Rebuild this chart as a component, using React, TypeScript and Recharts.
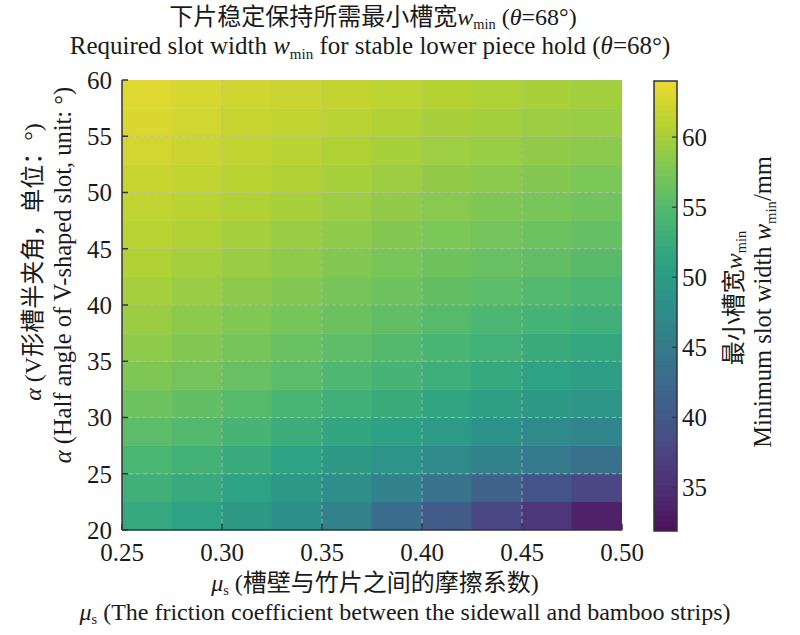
import * as React from 'react'
import {
  ComposedChart,
  XAxis,
  YAxis,
  ReferenceArea,
  ReferenceLine,
} from 'recharts'

// cell centres of the map (μs across, α up)
const MU_CENTERS = [0.2625, 0.2875, 0.3125, 0.3375, 0.3625, 0.3875, 0.4125, 0.4375, 0.4625, 0.4875]
const ALPHA_CENTERS = [21.25, 23.75, 26.25, 28.75, 31.25, 33.75, 36.25, 38.75, 41.25, 43.75, 46.25, 48.75, 51.25, 53.75, 56.25, 58.75]
const MU_STEP = 0.025
const ALPHA_STEP = 2.5

// w_min (mm), one row per α centre, bottom row first
const W_A21 = [52.0, 51.1, 49.8, 48.2, 46.1, 43.0, 40.5, 38.0, 35.8, 33.5]
const W_A24 = [53.1, 52.3, 51.1, 49.5, 47.9, 46.0, 43.8, 41.5, 39.5, 37.8]
const W_A26 = [54.2, 53.5, 52.4, 51.1, 49.8, 48.7, 47.4, 46.0, 44.7, 43.6]
const W_A29 = [55.5, 54.8, 53.8, 52.7, 51.7, 50.8, 49.7, 48.4, 47.4, 46.7]
const W_A31 = [56.7, 56.0, 55.1, 54.1, 53.2, 52.5, 51.5, 50.4, 49.5, 49.0]
const W_A34 = [57.8, 57.1, 56.3, 55.4, 54.5, 53.8, 52.9, 52.0, 51.1, 50.5]
const W_A36 = [58.7, 58.0, 57.2, 56.4, 55.6, 54.9, 54.1, 53.3, 52.5, 51.8]
const W_A39 = [59.3, 58.6, 57.9, 57.2, 56.5, 55.8, 55.1, 54.3, 53.7, 53.1]
const W_A41 = [59.9, 59.3, 58.6, 58.0, 57.3, 56.7, 56.0, 55.4, 54.8, 54.3]
const W_A44 = [60.5, 59.9, 59.3, 58.7, 58.0, 57.4, 56.8, 56.3, 55.8, 55.3]
const W_A46 = [61.0, 60.5, 59.9, 59.3, 58.7, 58.1, 57.6, 57.1, 56.6, 56.1]
const W_A49 = [61.4, 61.0, 60.5, 60.0, 59.4, 58.8, 58.3, 57.8, 57.4, 56.9]
const W_A51 = [61.9, 61.5, 61.0, 60.5, 60.0, 59.4, 58.9, 58.5, 58.1, 57.6]
const W_A54 = [62.5, 62.0, 61.5, 61.0, 60.5, 60.0, 59.5, 59.2, 58.8, 58.5]
const W_A56 = [62.9, 62.4, 61.9, 61.5, 61.0, 60.5, 60.1, 59.8, 59.4, 59.2]
const W_A59 = [63.2, 62.7, 62.3, 62.0, 61.6, 61.2, 60.8, 60.4, 60.0, 59.7]
const W_ROWS = [W_A21, W_A24, W_A26, W_A29, W_A31, W_A34, W_A36, W_A39, W_A41, W_A44, W_A46, W_A49, W_A51, W_A54, W_A56, W_A59]

const X_TICKS = [0.25, 0.3, 0.35, 0.4, 0.45, 0.5]
const Y_TICKS = [20, 25, 30, 35, 40, 45, 50, 55, 60]
const CBAR_TICKS = [35, 40, 45, 50, 55, 60]
const C_MIN = 31.9
const C_MAX = 64

const VIRIDIS = ['#440154', '#482475', '#414487', '#355f8d', '#2a788e', '#21918c', '#22a884', '#44bf70', '#7ad151', '#bddf26', '#fde725']
const WASH = 0.13 // the print is a little duller than pure viridis

const FONT = "'Liberation Serif', 'Times New Roman', 'Noto Sans CJK SC', serif"
const INK = '#1a1a1a'

function hex(c: string) {
  return [1, 3, 5].map((i) => parseInt(c.slice(i, i + 2), 16))
}

function colorFor(v: number) {
  const t = Math.max(0, Math.min(1, (v - C_MIN) / (C_MAX - C_MIN))) * (VIRIDIS.length - 1)
  const i = Math.min(VIRIDIS.length - 2, Math.floor(t))
  const f = t - i
  const a = hex(VIRIDIS[i])
  const b = hex(VIRIDIS[i + 1])
  const rgb = a.map((x, k) => Math.round((x + (b[k] - x) * f) * (1 - WASH) + 128 * WASH))
  return `rgb(${rgb.join(',')})`
}

// colour bar is drawn as thin bands, bottom to top
const CBAR_BANDS = 90
const bandH = (C_MAX - C_MIN) / CBAR_BANDS
const bands = Array.from({ length: CBAR_BANDS }, (_, i) => C_MIN + i * bandH)

const Wmin = () => (
  <>
    <span style={{ fontStyle: 'italic' }}>w</span>
    <span style={{ fontSize: '0.6em', verticalAlign: '-0.3em' }}>min</span>
  </>
)

const Mus = () => (
  <>
    <span style={{ fontStyle: 'italic' }}>μ</span>
    <span style={{ fontSize: '0.6em', verticalAlign: '-0.3em' }}>s</span>
  </>
)

const abs = (s: React.CSSProperties): React.CSSProperties => ({
  position: 'absolute',
  whiteSpace: 'nowrap',
  lineHeight: 1,
  ...s,
})

const rotated = (cx: number, cy: number): React.CSSProperties =>
  abs({ left: cx, top: cy, transform: 'translate(-50%, -50%) rotate(-90deg)' })

export default function App() {
  const tick = { fontSize: 25, fill: INK, fontFamily: FONT }
  return (
    <div
      style={{
        position: 'absolute',
        left: 0,
        top: 0,
        width: 800,
        height: 635,
        background: '#fff',
        fontFamily: FONT,
        fontSize: 24,
        color: INK,
        overflow: 'hidden',
      }}
    >
      <div style={abs({ left: 0, width: 746, top: 5, textAlign: 'center' })}>
        下片稳定保持所需最小槽宽<Wmin /> (<i>θ</i>=68°)
      </div>
      <div style={abs({ left: 0, width: 740, top: 33, textAlign: 'center', fontSize: 25 })}>
        Required slot width <Wmin /> for stable lower piece hold (<i>θ</i>=68°)
      </div>

      <div style={{ position: 'absolute', left: 0, top: 0 }}>
        <ComposedChart width={800} height={635} margin={{ top: 80, right: 178, bottom: 75, left: 62 }}>
          <XAxis
            type="number"
            dataKey="x"
            domain={[0.25, 0.5]}
            ticks={X_TICKS}
            tickFormatter={(v: number) => v.toFixed(2)}
            allowDataOverflow
            height={30}
            tickSize={-6}
            tickMargin={19}
            tick={tick}
            stroke="#333"
            axisLine={{ stroke: '#333', strokeWidth: 1.5 }}
            tickLine={{ stroke: '#333', strokeWidth: 1.5 }}
          />
          <YAxis
            type="number"
            domain={[20, 60]}
            ticks={Y_TICKS}
            allowDataOverflow
            width={60}
            tickSize={-6}
            tickMargin={16}
            tick={tick}
            stroke="#333"
            axisLine={{ stroke: '#333', strokeWidth: 1.5 }}
            tickLine={{ stroke: '#333', strokeWidth: 1.5 }}
          />
          {W_ROWS.flatMap((row, r) =>
            row.map((v, c) => {
              const fill = colorFor(v)
              return (
                <ReferenceArea
                  key={`${r}-${c}`}
                  x1={MU_CENTERS[c] - MU_STEP / 2}
                  x2={MU_CENTERS[c] + MU_STEP / 2}
                  y1={ALPHA_CENTERS[r] - ALPHA_STEP / 2}
                  y2={ALPHA_CENTERS[r] + ALPHA_STEP / 2}
                  fill={fill}
                  fillOpacity={1}
                  stroke={fill}
                  strokeWidth={0.6}
                  ifOverflow="hidden"
                />
              )
            })
          )}
          {X_TICKS.slice(1, -1).map((x) => (
            <ReferenceLine key={`gx${x}`} x={x} stroke="#b8b8b8" strokeOpacity={0.75} strokeDasharray="4 3" />
          ))}
          {Y_TICKS.slice(1, -1).map((y) => (
            <ReferenceLine key={`gy${y}`} y={y} stroke="#b8b8b8" strokeOpacity={0.75} strokeDasharray="4 3" />
          ))}
        </ComposedChart>
      </div>

      <div style={{ position: 'absolute', left: 644, top: 71 }}>
        <ComposedChart width={110} height={470} margin={{ top: 10, right: 7, bottom: 10, left: 10 }}>
          <XAxis
            type="number"
            dataKey="x"
            domain={[0, 1]}
            allowDataOverflow
            height={0}
            tick={false}
            axisLine={false}
            tickLine={false}
          />
          {bands.map((b, i) => {
            const fill = colorFor(b + bandH / 2)
            return (
              <ReferenceArea
                key={i}
                x1={0}
                x2={1}
                y1={b}
                y2={b + bandH}
                fill={fill}
                fillOpacity={1}
                stroke={fill}
                strokeWidth={0.6}
                ifOverflow="hidden"
              />
            )
          })}
          <ReferenceArea x1={0} x2={1} y1={C_MIN} y2={C_MAX} fill="none" stroke="#333" strokeWidth={1.5} />
          <YAxis
            type="number"
            orientation="right"
            domain={[C_MIN, C_MAX]}
            ticks={CBAR_TICKS}
            allowDataOverflow
            width={70}
            tickSize={-5}
            tickMargin={10}
            tick={tick}
            axisLine={false}
            tickLine={{ stroke: '#333', strokeWidth: 1.2 }}
          />
        </ComposedChart>
      </div>

      <div style={rotated(33, 262)}>
        <i>α</i> (V形槽半夹角，单位：°)
      </div>
      <div style={{ ...rotated(63, 275), fontSize: 24.5 }}>
        <i>α</i> (Half angle of V-shaped slot, unit: °)
      </div>
      <div style={rotated(735, 298)}>
        最小槽宽<Wmin />
      </div>
      <div style={{ ...rotated(765, 302), fontSize: 24.5 }}>
        Minimum slot width <Wmin />/mm
      </div>

      <div style={abs({ left: 0, width: 750, top: 571, textAlign: 'center' })}>
        <Mus /> (槽壁与竹片之间的摩擦系数)
      </div>
      <div style={abs({ left: 0, width: 810, top: 600, textAlign: 'center', fontSize: 24 })}>
        <Mus /> (The friction coefficient between the sidewall and bamboo strips)
      </div>
    </div>
  )
}
